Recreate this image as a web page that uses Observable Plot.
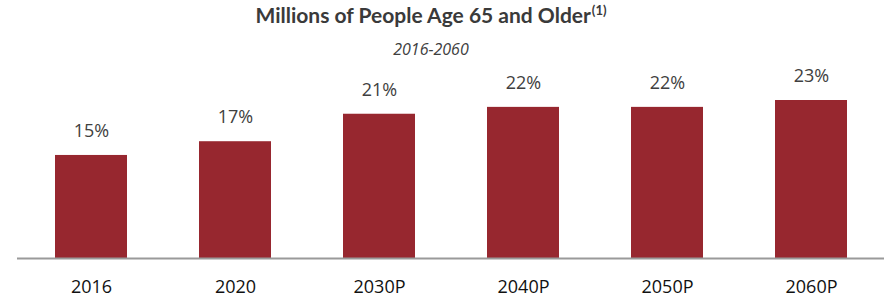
<!DOCTYPE html>
<html>
<head>
<meta charset="utf-8">
<script src="https://cdn.jsdelivr.net/npm/d3@7"></script>
<script src="https://cdn.jsdelivr.net/npm/@observablehq/plot@0.6"></script>
<style>
  html, body { margin: 0; padding: 0; background: #fff; }
  #wrap { width: 884px; height: 297px; position: relative; overflow: hidden; }
  #title { position: absolute; left: 0; top: 0; width: 862px; text-align: center;
    font-family: Lato, "Open Sans", sans-serif; font-weight: bold; font-size: 21px; line-height: 30px;
    color: #3a3a3a; white-space: nowrap; }
  #title sup { font-size: 13px; vertical-align: 0; position: relative; top: -8px; margin-left: 1px; }
  #subtitle { position: absolute; left: 0; top: 37px; width: 862px; text-align: center;
    font-family: "Open Sans", sans-serif; font-style: italic; font-size: 16px; line-height: 24px; color: #404040; }
  #chart { position: absolute; left: 0; top: 62px; }
</style>
</head>
<body>
<div id="wrap">
  <div id="title">Millions of People Age 65 and Older<sup>(1)</sup></div>
  <div id="subtitle">2016-2060</div>
  <div id="chart"></div>
</div>
<script>
const categories = ["2016", "2020", "2030P", "2040P", "2050P", "2060P"];
const shares = [15, 17, 21, 22, 22, 23];

const data = categories.map((c, i) => ({category: c, share: shares[i]}));

const chart = Plot.plot({
  width: 884,
  height: 235,
  marginLeft: 17,
  marginRight: 0,
  marginTop: 38,
  marginBottom: 39,
  style: {fontFamily: "'Open Sans', sans-serif", fontSize: "18px", background: "transparent"},
  x: {domain: categories, paddingInner: 0.5, paddingOuter: 0.25, label: null},
  y: {domain: [0, 23], axis: null},
  marks: [
    Plot.barY(data, {x: "category", y: "share", fill: "#97272f"}),
    Plot.ruleY([0], {stroke: "#9a9a9a", strokeWidth: 2}),
    Plot.text(data, {x: "category", y: "share", text: d => d.share + "%", dy: -24,
      fontSize: 18, fill: "#404040"}),
    Plot.axisX({tickSize: 0, tickPadding: 22, fontSize: 18, fill: "#111", label: null})
  ]
});
document.getElementById("chart").appendChild(chart);
</script>
</body>
</html>
